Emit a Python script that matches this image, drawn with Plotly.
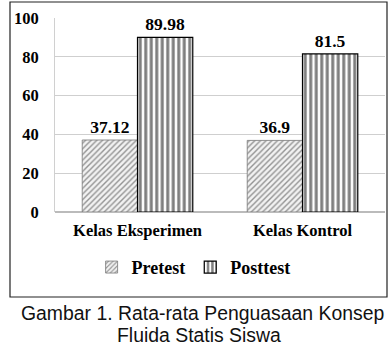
import plotly.graph_objects as go

categories = ["Kelas Eksperimen", "Kelas Kontrol"]
pretest = [37.12, 36.9]
posttest = [89.98, 81.5]
pretest_labels = ["37.12", "36.9"]
posttest_labels = ["89.98", "81.5"]
y_ticks = [0, 20, 40, 60, 80, 100]

serif = "Liberation Serif, Times New Roman, serif"
def bold(size):
    return dict(family=serif, size=size, color="black", weight="bold")

fig = go.Figure()
fig.add_trace(go.Bar(
    name="Pretest", x=categories, y=pretest, text=pretest_labels,
    textposition="outside", cliponaxis=False, textfont=bold(17.5),
    marker=dict(color="white", line=dict(color="#777777", width=0.8),
                pattern=dict(shape="/", fgcolor="#333333", bgcolor="#f2f2f2",
                             size=4, solidity=0.35)),
))
fig.add_trace(go.Bar(
    name="Posttest", x=categories, y=posttest, text=posttest_labels,
    textposition="outside", cliponaxis=False, textfont=bold(17.5),
    marker=dict(color="white", line=dict(color="black", width=1.2),
                pattern=dict(shape="|", fgcolor="black", bgcolor="white",
                             size=5.5, solidity=0.55)),
))

fig.update_layout(
    width=391, height=345,
    margin=dict(l=55, r=6, t=18, b=133),
    paper_bgcolor="white", plot_bgcolor="white",
    barmode="group", bargap=0.33, bargroupgap=0,
    font=bold(16),
    showlegend=True,
    legend=dict(orientation="h", x=0.42, xanchor="center", y=-0.19, yanchor="top",
                font=bold(18), itemwidth=30, tracegroupgap=0),
    xaxis=dict(showgrid=False, showline=False, ticks="", tickfont=bold(16.5),
               ticklabelstandoff=6),
    yaxis=dict(range=[0, 100], tickvals=y_ticks, showgrid=True, gridcolor="#cfcfcf",
               gridwidth=1, zeroline=True, zerolinecolor="#bbbbbb",
               showline=True, linecolor="#d0d0d0", ticks="", ticklabelstandoff=12,
               tickfont=bold(16.5)),
)

# chart border box
fig.add_shape(type="rect", xref="paper", yref="paper",
              x0=(10 - 55) / 330, x1=(387 - 55) / 330,
              y0=-(297 - 212) / 194, y1=1 + (18 - 2) / 194,
              line=dict(color="#222222", width=1.2), fillcolor="rgba(0,0,0,0)")

# caption
cap = dict(family="Liberation Sans, Arial, sans-serif", size=19.4, color="#111111",
           weight="normal")
fig.add_annotation(xref="paper", yref="paper", x=(19 - 55) / 330, xanchor="left",
                   y=-(313 - 212) / 194, yanchor="middle", showarrow=False,
                   text="Gambar 1. Rata-rata Penguasaan Konsep", font=cap)
fig.add_annotation(xref="paper", yref="paper", x=(199 - 55) / 330, xanchor="center",
                   y=-(335 - 212) / 194, yanchor="middle", showarrow=False,
                   text="Fluida Statis Siswa", font=cap)

fig.write_html("out.html")
